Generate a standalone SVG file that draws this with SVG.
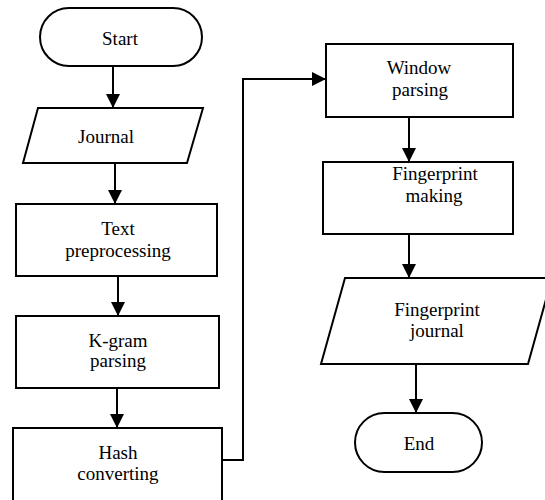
<svg xmlns="http://www.w3.org/2000/svg" width="545" height="500" viewBox="0 0 545 500">
<style>
.s{fill:#fff;stroke:#000;stroke-width:2}
.t{font-family:"Liberation Serif","DejaVu Serif",serif;font-size:19px;fill:#000;text-anchor:middle}
.c{fill:none;stroke:#000;stroke-width:2}
</style>
<defs>
<marker id="ah" markerUnits="userSpaceOnUse" markerWidth="16" markerHeight="14" refX="14" refY="7" orient="auto">
<path d="M0,0 L14,7 L0,14 Z" fill="#000"/>
</marker>
</defs>
<rect width="545" height="500" fill="#fff"/>
<g id="connectors">
<line class="c" x1="113" y1="66" x2="113" y2="108" marker-end="url(#ah)"/>
<line class="c" x1="115" y1="163" x2="115" y2="204" marker-end="url(#ah)"/>
<line class="c" x1="118" y1="276" x2="118" y2="316" marker-end="url(#ah)"/>
<line class="c" x1="117" y1="388" x2="117" y2="428" marker-end="url(#ah)"/>
<polyline class="c" points="222,460 243,460 243,79 326,79" marker-end="url(#ah)"/>
<line class="c" x1="409" y1="117" x2="409" y2="162" marker-end="url(#ah)"/>
<line class="c" x1="409" y1="234" x2="409" y2="278" marker-end="url(#ah)"/>
<line class="c" x1="416" y1="364" x2="416" y2="413" marker-end="url(#ah)"/>
</g>
<g id="start">
<rect class="s" x="40" y="8" width="162" height="58" rx="29" ry="29"/>
<text class="t" x="120" y="45" font-family="Liberation Serif">Start</text>
</g>
<g id="journal">
<polygon class="s" points="38,108 203,108 187,163 23,163"/>
<text class="t" x="106" y="143">Journal</text>
</g>
<g id="text-preprocessing">
<rect class="s" x="16" y="204" width="201" height="72"/>
<text class="t" x="118" y="235">Text</text>
<text class="t" x="118" y="257">preprocessing</text>
</g>
<g id="kgram-parsing">
<rect class="s" x="16" y="316" width="203" height="72"/>
<text class="t" x="118" y="347">K-gram</text>
<text class="t" x="118" y="367">parsing</text>
</g>
<g id="hash-converting">
<rect class="s" x="13" y="428" width="209" height="80"/>
<text class="t" x="118" y="459">Hash</text>
<text class="t" x="118" y="480">converting</text>
</g>
<g id="window-parsing">
<rect class="s" x="326" y="44" width="187" height="73"/>
<text class="t" x="419" y="74">Window</text>
<text class="t" x="420" y="96">parsing</text>
</g>
<g id="fingerprint-making">
<rect class="s" x="323" y="162" width="190" height="72"/>
<text class="t" x="435" y="180">Fingerprint</text>
<text class="t" x="434" y="202">making</text>
</g>
<g id="fingerprint-journal">
<polygon class="s" points="345,278 552,278 528,364 321,364"/>
<text class="t" x="437" y="316">Fingerprint</text>
<text class="t" x="437" y="337">journal</text>
</g>
<g id="end">
<rect class="s" x="355" y="413" width="127" height="59" rx="29.5" ry="29.5"/>
<text class="t" x="419" y="450">End</text>
</g>
</svg>
